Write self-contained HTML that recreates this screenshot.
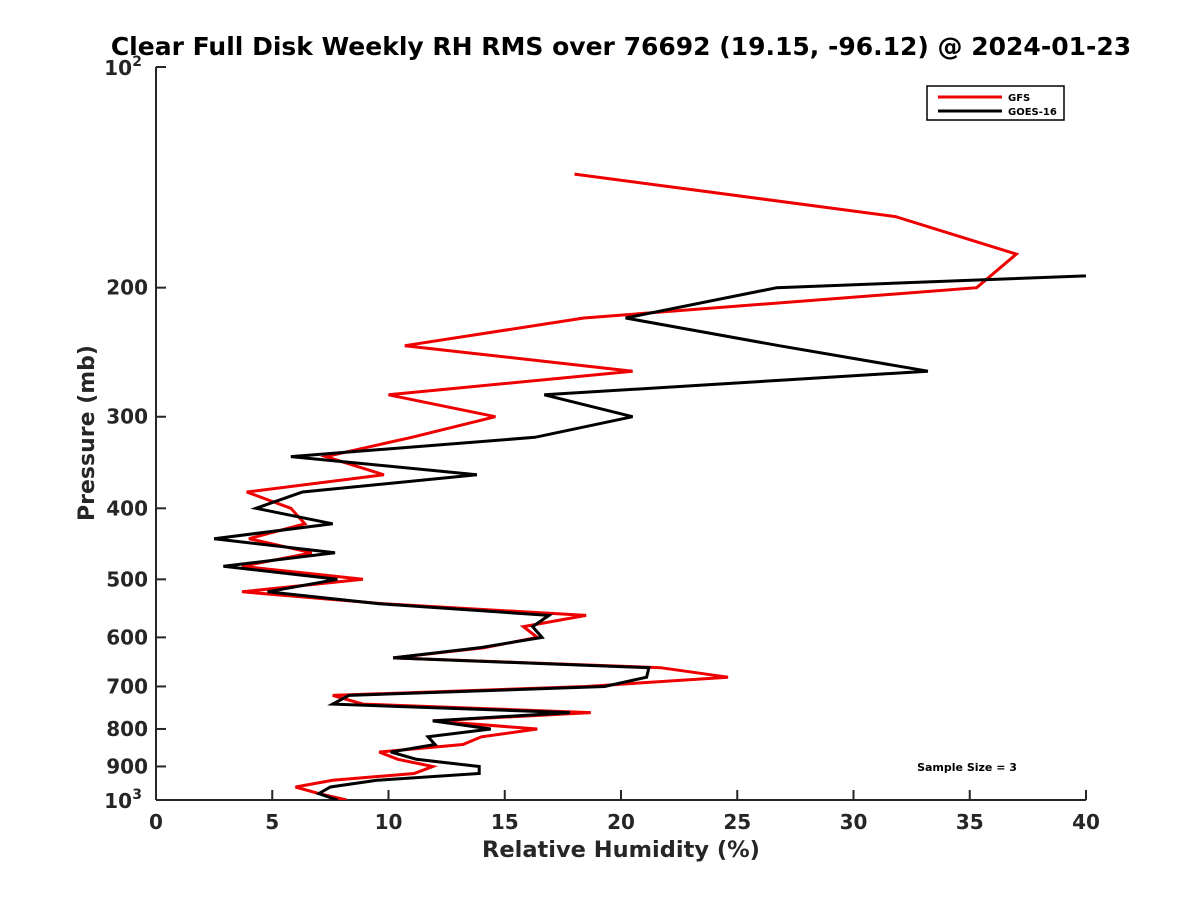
<!DOCTYPE html>
<html><head><meta charset="utf-8"><style>
body{margin:0;background:#fff;}
svg{display:block;font-family:"DejaVu Sans","Liberation Sans",sans-serif;font-weight:bold;}
</style></head><body>
<svg id="chart" width="1200" height="900" viewBox="0 0 1200 900">
<defs><clipPath id="plotclip"><rect x="156" y="67" width="930" height="733"/></clipPath></defs>
<rect width="1200" height="900" fill="#fff"/>
<text x="621" y="55" text-anchor="middle" font-size="25" fill="#000">Clear Full Disk Weekly RH RMS over 76692 (19.15, -96.12) @ 2024-01-23</text>
<g id="axes"></g>
<g id="series" clip-path="url(#plotclip)"></g>
<text x="621" y="857" text-anchor="middle" font-size="22.5" fill="#262626">Relative Humidity (%)</text>
<text transform="translate(94,433) rotate(-90)" text-anchor="middle" font-size="22" fill="#262626">Pressure (mb)</text>
<text x="967" y="771" text-anchor="middle" font-size="11" fill="#000">Sample Size = 3</text>
<g>
<rect x="927" y="86" width="137" height="34" fill="#fff" stroke="#000" stroke-width="1.5"/>
<line x1="938" y1="97" x2="1002" y2="97" stroke="#e00" stroke-width="3"/>
<text x="1008" y="101" font-size="10">GFS</text>
<line x1="938" y1="111" x2="1002" y2="111" stroke="#000" stroke-width="3"/>
<text x="1008" y="115" font-size="10">GOES-16</text>
</g>
</svg>
<script>
const pressures=[140,160,180,200,220,240,260,280,300,320,340,360,380,400,420,440,460,480,500,520,540,560,580,600,620,640,660,680,700,720,740,760,780,800,820,840,860,880,900,920,940,960,980,1000];
const gfsValues=[18.0,31.8,37.0,35.3,18.4,10.7,20.5,10.0,14.6,11.0,7.3,9.8,3.9,5.8,6.4,4.0,6.7,3.7,8.9,3.7,9.8,18.5,15.8,16.4,14.1,10.2,21.7,24.6,18.5,7.6,8.9,18.7,11.9,16.4,14.0,13.2,9.6,10.4,11.9,11.1,7.6,6.0,7.0,8.2];
const goesValues=[null,null,64.5,26.7,20.2,26.8,33.2,16.7,20.5,16.3,5.8,13.8,6.3,4.3,7.6,2.5,7.7,2.9,7.8,4.8,9.6,16.9,16.2,16.6,13.9,10.2,21.2,21.1,19.3,8.3,7.6,17.8,11.9,14.4,11.7,12.0,10.1,11.2,13.9,13.9,9.5,7.5,7.0,7.8];
const xTicks=[0,5,10,15,20,25,30,35,40];
const yTicks=[100,200,300,400,500,600,700,800,900,1000];
const yTickLabels=["10|2","200","300","400","500","600","700","800","900","10|3"];
const X0=156,X1=1086,Y0=67,Y1=800;
const xs=v=>X0+(v/40)*(X1-X0);
const ys=p=>Y0+(Math.log10(p)-2)*(Y1-Y0);
const NS="http://www.w3.org/2000/svg";
const axes=document.getElementById('axes'), series=document.getElementById('series');
function mk(tag,attrs,parent){const e=document.createElementNS(NS,tag);for(const k in attrs)e.setAttribute(k,attrs[k]);parent.appendChild(e);return e;}
const yAxis=mk('line',{x1:X0,y1:Y0,x2:X0,y2:Y1,stroke:'#262626','stroke-width':2},axes);


const xAxis=mk('line',{x1:X0,y1:Y1,x2:X1,y2:Y1,stroke:'#262626','stroke-width':2},axes);


xTicks.forEach(t=>{
 const x=xs(t);
 const tk=mk('line',{x1:x,y1:Y1,x2:x,y2:Y1-10,stroke:'#262626','stroke-width':2},axes);
 
 
 const lb=mk('text',{x:x,y:Y1+29,'text-anchor':'middle','font-size':20,fill:'#262626'},axes);
 lb.textContent=t;
 
 
});
yTicks.forEach((p,i)=>{
 const y=ys(p);
 const tk=mk('line',{x1:X0,y1:y,x2:X0+10,y2:y,stroke:'#262626','stroke-width':2},axes);
 
 
 const lab=yTickLabels[i];
 if(lab.indexOf('|')>=0){
  const parts=lab.split('|');
  const lb=mk('text',{x:X0-24,y:y+8,'text-anchor':'end','font-size':20,fill:'#262626'},axes);
  lb.textContent=parts[0];
  
  
  const sp=mk('text',{x:X0-14,y:y-1,'text-anchor':'end','font-size':14,fill:'#262626'},axes);
  sp.textContent=parts[1];
  
  
 } else {
  const lb=mk('text',{x:X0-8,y:y+7,'text-anchor':'end','font-size':20,fill:'#262626'},axes);
  lb.textContent=lab;
  
  
 }
});
function path(vals,color,name){
 let d='';
 vals.forEach((v,i)=>{if(v==null)return;d+=(d?'L':'M')+xs(v).toFixed(1)+','+ys(pressures[i]).toFixed(1);});
 const e=mk('path',{d:d,fill:'none',stroke:color,'stroke-width':3,'stroke-linejoin':'miter'},series);
 
 
}
path(gfsValues,'#e00','gfs-line');
path(goesValues,'#000','goes16-line');
</script>
</body></html>
